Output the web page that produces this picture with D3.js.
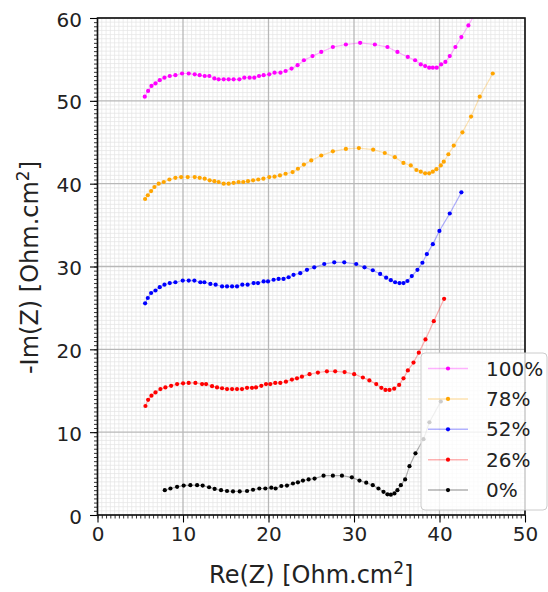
<!DOCTYPE html>
<html><head><meta charset="utf-8">
<script src="https://cdn.jsdelivr.net/npm/d3@7"></script>
<style>body{margin:0;background:#fff;} svg{display:block;font-family:"DejaVu Sans",sans-serif;}</style>
</head><body>
<svg id="c" width="548" height="592"></svg>
<script>
const seriesNames = ["100%","78%","52%","26%","0%"];
const seriesColors = ["#ff00ff","#ffa500","#0000ff","#ff0000","#000000"];

const x100 = [5.53,5.92,6.31,6.78,7.28,7.83,8.45,9.11,9.89,10.67,11.37,11.95,12.54,13.08,13.67,14.17,14.76,15.34,15.92,16.59,17.17,17.79,18.34,18.89,19.43,20.09,20.71,21.4,22.0,22.7,23.4,24.14,25.15,26.17,27.53,29.05,30.72,32.44,33.91,35.08,36.29,37.15,37.81,38.32,38.79,39.22,39.68,40.19,40.69,41.2,41.86,42.56,43.38,44.2];
const y100 = [50.5,51.2,51.8,52.1,52.5,52.8,53.0,53.1,53.3,53.3,53.2,53.1,53.0,53.0,52.7,52.6,52.6,52.6,52.6,52.6,52.8,52.8,52.8,53.0,53.1,53.2,53.4,53.4,53.6,53.9,54.3,54.9,55.4,55.9,56.5,56.8,57.0,56.8,56.5,55.9,55.3,54.9,54.4,54.2,54.0,54.0,54.0,54.4,54.7,55.4,56.5,57.7,59.1,60.6];

const x78 = [5.57,5.88,6.27,6.66,7.16,7.75,8.41,9.11,9.78,10.55,11.37,11.95,12.54,13.12,13.67,14.17,14.76,15.34,15.92,16.5,17.05,17.6,18.2,18.8,19.4,20.09,20.71,21.34,22.0,22.82,23.44,24.14,25.0,26.17,27.53,29.05,30.57,32.24,33.6,34.78,35.78,36.64,37.3,37.81,38.32,38.79,39.22,39.64,40.15,40.5,41.04,41.67,42.68,43.69,44.71,46.23];
const y78 = [38.15,38.6,39.1,39.6,40.0,40.2,40.5,40.7,40.8,40.8,40.8,40.7,40.6,40.4,40.3,40.2,40.0,40.0,40.1,40.2,40.2,40.3,40.4,40.5,40.6,40.8,40.85,41.0,41.2,41.4,41.8,42.3,42.8,43.4,43.9,44.2,44.3,44.1,43.7,43.2,42.5,42.2,41.65,41.45,41.25,41.25,41.45,41.75,42.2,42.65,43.55,44.6,46.2,48.1,50.5,53.3];

const x52 = [5.57,5.88,6.27,6.78,7.28,7.83,8.45,9.11,9.97,10.67,11.33,12.03,12.5,13.2,13.82,14.57,15.15,15.74,16.32,16.94,17.56,18.26,18.77,19.43,19.94,20.6,21.18,21.76,22.35,22.93,23.71,24.5,25.35,26.52,27.69,28.86,30.26,31.23,32.2,33.06,33.76,34.31,34.81,35.32,35.79,36.25,36.76,37.42,38.0,38.52,39.22,39.99,41.2,42.56];
const y52 = [25.55,26.2,26.8,27.1,27.5,27.8,28.0,28.1,28.3,28.3,28.3,28.1,28.1,27.9,27.8,27.6,27.6,27.6,27.6,27.8,27.8,28.0,28.0,28.2,28.2,28.4,28.5,28.5,28.7,29.0,29.2,29.6,29.9,30.3,30.5,30.5,30.3,29.9,29.55,29.1,28.65,28.35,28.1,28.0,28.0,28.25,28.85,29.6,30.45,31.5,32.7,34.3,36.4,38.95];

const x26 = [5.61,5.92,6.31,6.78,7.36,7.94,8.61,9.31,10.01,10.67,11.45,12.23,12.7,13.4,13.98,14.57,15.15,15.74,16.32,16.9,17.49,18.07,18.54,19.16,19.71,20.21,20.79,21.38,22.04,22.74,23.33,23.91,24.8,25.78,26.83,27.8,28.9,30.02,31.04,31.8,32.6,33.2,33.68,34.15,34.7,35.28,35.79,36.3,36.96,37.58,38.36,39.33,40.54];
const y26 = [13.16,13.9,14.4,14.8,15.2,15.4,15.6,15.8,15.9,15.95,15.95,15.8,15.8,15.55,15.4,15.3,15.2,15.2,15.2,15.2,15.35,15.35,15.4,15.6,15.8,15.8,15.95,15.95,16.1,16.35,16.5,16.7,17.0,17.2,17.35,17.35,17.25,17.0,16.6,16.25,15.8,15.35,15.1,15.1,15.25,15.7,16.5,17.45,18.4,19.6,21.2,23.4,26.1];

const x0 = [7.87,8.53,9.31,10.08,10.86,11.65,12.3,13.05,13.7,14.45,15.15,15.85,16.63,17.49,18.19,18.93,19.63,20.33,20.83,21.5,22.16,22.86,23.44,24.03,24.69,25.39,26.44,27.53,28.59,29.75,30.64,31.43,32.2,32.86,33.45,33.91,34.31,34.73,35.08,35.48,35.98,36.49,37.19,38.13,38.82,40.15];
const y0 = [3.0,3.2,3.4,3.55,3.6,3.6,3.55,3.35,3.15,3.0,2.9,2.85,2.85,2.9,3.05,3.2,3.2,3.3,3.2,3.5,3.55,3.8,3.95,4.15,4.3,4.4,4.75,4.75,4.75,4.55,4.15,3.9,3.6,3.2,2.8,2.5,2.45,2.6,3.0,3.6,4.3,5.9,7.45,9.15,11.2,13.7];

const xTicks = [0,10,20,30,40,50];
const yTicks = [0,10,20,30,40,50,60];

const seriesX = [x100,x78,x52,x26,x0];
const seriesY = [y100,y78,y52,y26,y0];

const svg = d3.select("#c");
const L = 97.5, R = 525, T = 18, B = 515;
const xs = d3.scaleLinear().domain([0,50]).range([L,R]);
const ys = d3.scaleLinear().domain([0,60]).range([B,T]);

svg.append("defs").append("clipPath").attr("id","clip")
  .append("rect").attr("x",L).attr("y",T).attr("width",R-L).attr("height",B-T);

// minor grid
const minorX = d3.range(0,50.01,0.5).filter(v=>v%10!==0);
const minorY = d3.range(0,60.01,0.5).filter(v=>v%10!==0);
const g = svg.append("g");
g.selectAll(".mgx").data(minorX).enter().append("line")
  .attr("x1",d=>xs(d)).attr("x2",d=>xs(d)).attr("y1",T).attr("y2",B)
  .attr("stroke","#e4e4e4").attr("stroke-width",0.7);
g.selectAll(".mgy").data(minorY).enter().append("line")
  .attr("y1",d=>ys(d)).attr("y2",d=>ys(d)).attr("x1",L).attr("x2",R)
  .attr("stroke","#e4e4e4").attr("stroke-width",0.7);
// major grid
g.selectAll(".gx").data(xTicks).enter().append("line")
  .attr("x1",d=>xs(d)).attr("x2",d=>xs(d)).attr("y1",T).attr("y2",B)
  .attr("stroke","#b8b8b8").attr("stroke-width",1.3);
g.selectAll(".gy").data(yTicks).enter().append("line")
  .attr("y1",d=>ys(d)).attr("y2",d=>ys(d)).attr("x1",L).attr("x2",R)
  .attr("stroke","#b8b8b8").attr("stroke-width",1.3);

// series
const plot = svg.append("g").attr("clip-path","url(#clip)");
const line = d3.line().x(d=>xs(d[0])).y(d=>ys(d[1]));
seriesNames.slice().reverse().forEach((name,ri)=>{
  const i = seriesNames.length-1-ri;
  const pts = seriesX[i].map((xv,k)=>[xv,seriesY[i][k]]);
  plot.append("path").datum(pts).attr("d",line).attr("fill","none")
    .attr("stroke",seriesColors[i]).attr("stroke-opacity",0.3).attr("stroke-width",1.2);
  plot.selectAll(null).data(pts).enter().append("circle")
    .attr("cx",d=>xs(d[0])).attr("cy",d=>ys(d[1])).attr("r",2.1)
    .attr("fill",seriesColors[i]);
});

// axes
const xAxis = d3.axisBottom(xs).tickValues(xTicks).tickSize(7.5).tickPadding(4).tickFormat(d3.format("d"));
const yAxis = d3.axisLeft(ys).tickValues(yTicks).tickSize(7.5).tickPadding(8).tickFormat(d3.format("d"));
const xMinor = d3.axisBottom(xs).tickValues(d3.range(0,50.01,0.5)).tickSize(3.5).tickFormat("");
const yMinor = d3.axisLeft(ys).tickValues(d3.range(0,60.01,0.5)).tickSize(3.5).tickFormat("");
[[xMinor,"translate(0,"+B+")"],[yMinor,"translate("+L+",0)"]].forEach(([ax,tr])=>{
  const a = svg.append("g").attr("transform",tr).call(ax);
  a.select(".domain").remove();
  a.selectAll("line").attr("stroke","#000").attr("stroke-width",0.8);
});
const xa = svg.append("g").attr("transform","translate(0,"+B+")").call(xAxis);
const ya = svg.append("g").attr("transform","translate("+L+",0)").call(yAxis);
[xa,ya].forEach(a=>{
  a.select(".domain").remove();
  a.selectAll("line").attr("stroke","#000").attr("stroke-width",1.1);
  a.selectAll("text").attr("font-size",20).attr("fill","#222").attr("font-family","DejaVu Sans");
});
ya.selectAll("text").attr("dy","0.4em");
// frame
svg.append("rect").attr("x",L).attr("y",T).attr("width",R-L).attr("height",B-T)
  .attr("fill","none").attr("stroke","#111").attr("stroke-width",1.6);

// axis labels
const xl = svg.append("text").attr("x",(L+R)/2).attr("y",583).attr("text-anchor","middle")
  .attr("font-size",24).attr("fill","#222");
xl.append("tspan").text("Re(Z) [Ohm.cm");
xl.append("tspan").text("2").attr("font-size",17).attr("dy",-9);
xl.append("tspan").text("]").attr("dy",9);

const yl = svg.append("text").attr("transform","translate(37.5,"+((T+B)/2+1)+") rotate(-90)")
  .attr("text-anchor","middle").attr("font-size",24).attr("fill","#222");
yl.append("tspan").text("-Im(Z) [Ohm.cm");
yl.append("tspan").text("2").attr("font-size",17).attr("dy",-9);
yl.append("tspan").text("]").attr("dy",9);

// legend
const lg = svg.append("g");
lg.append("rect").attr("x",421).attr("y",353).attr("width",126).attr("height",157)
  .attr("rx",4).attr("fill","#fff").attr("fill-opacity",0.8).attr("stroke","#cccccc").attr("stroke-width",1);
seriesNames.forEach((name,i)=>{
  const cy = 368.5 + i*30.4;
  lg.append("line").attr("x1",428).attr("x2",468).attr("y1",cy).attr("y2",cy)
    .attr("stroke",seriesColors[i]).attr("stroke-opacity",0.3).attr("stroke-width",1.5);
  lg.append("circle").attr("cx",448).attr("cy",cy).attr("r",2.1).attr("fill",seriesColors[i]);
  lg.append("text").attr("x",486).attr("y",cy+7).attr("font-size",20).attr("fill","#222").text(name);
});
</script>
</body></html>
